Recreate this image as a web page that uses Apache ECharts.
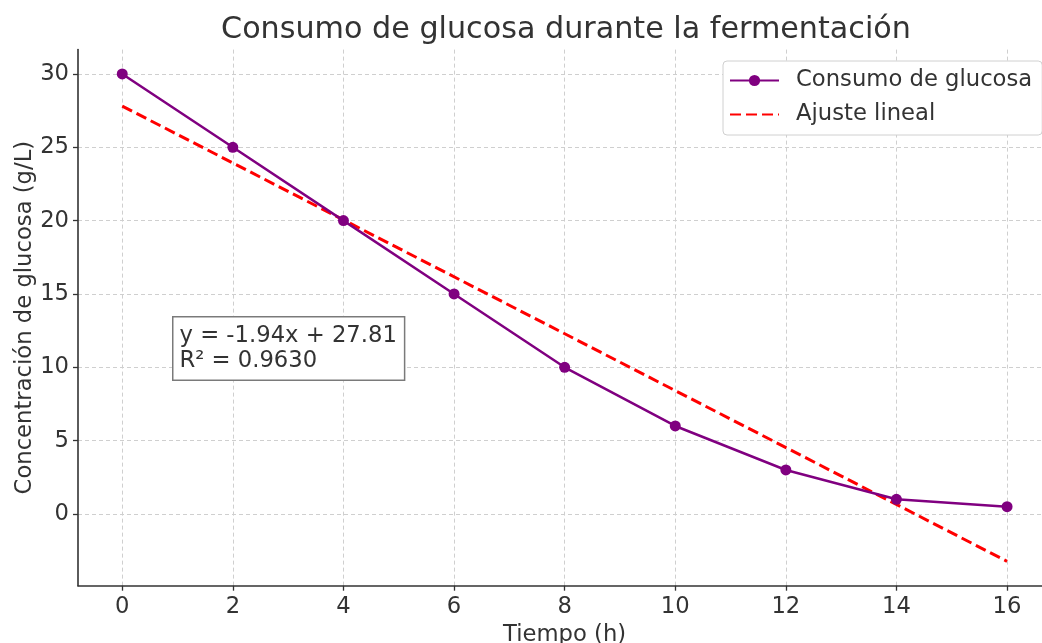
<!DOCTYPE html>
<html>
<head>
<meta charset="utf-8">
<script src="https://cdn.jsdelivr.net/npm/echarts@6/dist/echarts.min.js"></script>
<style>html,body{margin:0;padding:0;background:#fff;overflow:hidden}#c{width:1042px;height:643px}</style>
</head>
<body>
<div id="c"></div>
<script>
const timeH = [0, 2, 4, 6, 8, 10, 12, 14, 16];
const glucose = [30, 25, 20, 15, 10, 6, 3, 1, 0.5];
const fitX = [0, 16];
const fitY = [27.81, -3.23];
const xTicks = [0, 2, 4, 6, 8, 10, 12, 14, 16];
const yTicks = [0, 5, 10, 15, 20, 25, 30];
const titleText = 'Consumo de glucosa durante la fermentación';
const xName = 'Tiempo (h)';
const yName = 'Concentración de glucosa (g/L)';
const seriesNames = ['Consumo de glucosa', 'Ajuste lineal'];
const annotation = ['y = -1.94x + 27.81', 'R\u00b2 = 0.9630'];

const FONT = 'DejaVu Sans';
const FS = 22.7;
const TXT = '#333333';
const chart = echarts.init(document.getElementById('c'), null, {renderer: 'canvas', width: 1042, height: 643});
const gridStyle = {show: true, lineStyle: {color: '#cfcfcf', width: 1, type: [4, 3]}};
chart.setOption({
  animation: false,
  backgroundColor: '#ffffff',
  title: {
    text: titleText, left: 561, top: 10, textAlign: 'center',
    textStyle: {fontFamily: FONT, fontSize: 30.2, fontWeight: 'normal', color: TXT}
  },
  grid: {left: 78, top: 49.6, width: 973.3, height: 536.1, containLabel: false, outerBoundsMode: 'none'},
  xAxis: {
    type: 'value', min: -0.8, max: 16.8,
    name: xName, nameLocation: 'middle', nameGap: 36,
    nameTextStyle: {fontFamily: FONT, fontSize: FS, color: TXT},
    axisLine: {show: true, onZero: false, lineStyle: {color: '#333', width: 1.6}},
    axisTick: {show: true, customValues: xTicks, length: 5, lineStyle: {color: '#333', width: 1.3}},
    axisLabel: {customValues: xTicks, margin: 10, fontFamily: FONT, fontSize: FS, color: TXT},
    splitLine: gridStyle
  },
  yAxis: {
    type: 'value', min: -4.89, max: 31.66,
    name: yName, nameLocation: 'middle', nameGap: 41, nameRotate: 90, nameMoveOverlap: false,
    nameTextStyle: {fontFamily: FONT, fontSize: FS, color: TXT},
    axisLine: {show: true, onZero: false, lineStyle: {color: '#333', width: 1.6}},
    axisTick: {show: true, customValues: yTicks, length: 5, lineStyle: {color: '#333', width: 1.3}},
    axisLabel: {customValues: yTicks, margin: 9, fontFamily: FONT, fontSize: FS, color: TXT},
    splitLine: gridStyle
  },
  legend: {
    orient: 'vertical', left: 723, top: 61,
    padding: [8, 10, 9, 6], itemGap: 11, itemWidth: 49, itemHeight: 14,
    backgroundColor: '#ffffff', borderColor: '#d0d0d0', borderWidth: 1, borderRadius: 4,
    textStyle: {fontFamily: FONT, fontSize: FS, color: TXT, lineHeight: 22, padding: [0, 0, 0, 12]},
    data: [
      {name: seriesNames[0]},
      {name: seriesNames[1], itemStyle: {opacity: 0}}
    ]
  },
  series: [
    {
      name: seriesNames[0], type: 'line',
      data: timeH.map((t, i) => [t, glucose[i]]),
      symbol: 'circle', symbolSize: 11, showSymbol: true,
      lineStyle: {color: '#800080', width: 2.5},
      itemStyle: {color: '#800080'}, z: 3
    },
    {
      name: seriesNames[1], type: 'line',
      data: fitX.map((t, i) => [t, fitY[i]]),
      symbol: 'none',
      lineStyle: {color: '#ff0000', width: 3, type: [11, 5]},
      itemStyle: {color: '#ff0000'}, z: 2
    }
  ],
  graphic: [{
    type: 'text', left: 172, top: 316, z: 10,
    style: {
      text: annotation.join('\n'),
      font: FS + 'px "DejaVu Sans"', fill: TXT, lineHeight: 25,
      backgroundColor: '#ffffff', borderColor: '#7a7a7a', borderWidth: 1.5,
      padding: [6, 7, 6, 6]
    }
  }]
});
</script>
</body>
</html>
